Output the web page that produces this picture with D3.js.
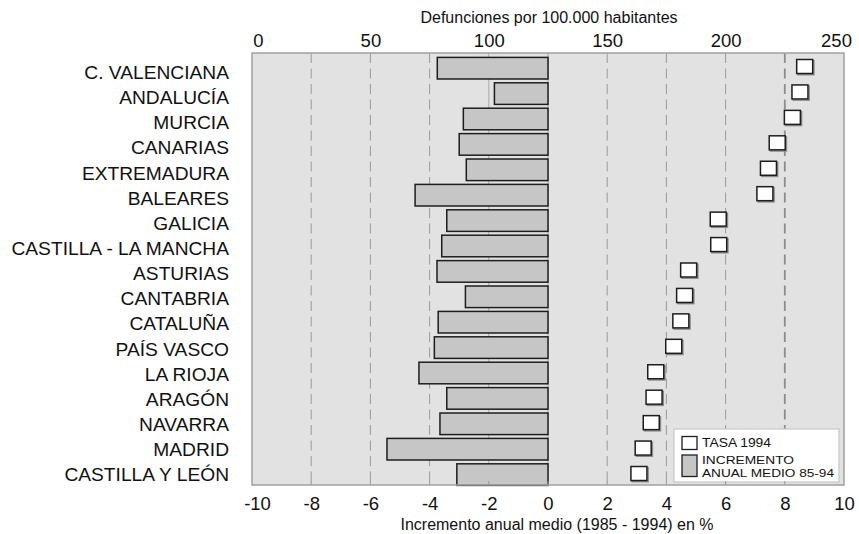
<!DOCTYPE html>
<html><head><meta charset="utf-8">
<script src="https://cdn.jsdelivr.net/npm/d3@7"></script>
<style>
body{margin:0;background:#fff;}
text{font-family:"Liberation Sans",Arial,sans-serif;fill:#111;}
</style></head>
<body>
<svg id="chart" width="859" height="534"></svg>
<script>
const regions = ["C. VALENCIANA","ANDALUCÍA","MURCIA","CANARIAS","EXTREMADURA","BALEARES","GALICIA","CASTILLA - LA MANCHA","ASTURIAS","CANTABRIA","CATALUÑA","PAÍS VASCO","LA RIOJA","ARAGÓN","NAVARRA","MADRID","CASTILLA Y LEÓN"];
const incremento = [-3.74,-1.81,-2.86,-3.0,-2.76,-4.49,-3.42,-3.59,-3.75,-2.79,-3.71,-3.84,-4.36,-3.42,-3.65,-5.44,-3.08];
const tasa1994 = [233.4,231.4,228.2,221.8,218.1,216.6,196.9,197.1,184.4,182.7,181.1,178.1,170.5,169.8,168.6,165.2,163.4];
const bottomTicks = [-10,-8,-6,-4,-2,0,2,4,6,8,10];
const topTicks = [0,50,100,150,200,250];
const topTitle = "Defunciones por 100.000 habitantes";
const bottomTitle = "Incremento anual medio (1985 - 1994) en %";
const legendItems = [["TASA 1994"],["INCREMENTO","ANUAL MEDIO 85-94"]];

const svg = d3.select("#chart");
const L = 252, R = 844, T = 53, B = 485;

const x = d3.scaleLinear().domain([-10,10]).range([L,R]);
const xTop = d3.scaleLinear().domain([0,250]).range([L,R]);
const yBar = d3.scaleBand().domain(regions).range([55.5,487.3]).paddingInner(0.15).paddingOuter(0.075);
const yLab = d3.scalePoint().domain(regions).range([72,474.5]);
const ySq = d3.scalePoint().domain(regions).range([66.5,473.5]);

// plot background
svg.append("rect").attr("x",L).attr("y",T).attr("width",R-L).attr("height",B-T).attr("fill","#e2e2e2");

// gridlines
const grid = svg.append("g");
bottomTicks.filter(v=>v>-10 && v<10).forEach(v=>{
  const solid = (v===-2 || v===0);
  grid.append("line").attr("x1",x(v)).attr("x2",x(v)).attr("y1",T).attr("y2",B)
    .attr("stroke", solid ? "#a8a8a8" : (v===8 ? "#8c8c8c" : "#9a9a9a"))
    .attr("stroke-width", v===8 ? 1.8 : 1)
    .attr("stroke-dasharray", solid ? null : "10,5.5");
});

// bars
svg.append("g").selectAll("rect").data(regions).join("rect")
  .attr("x",(d,i)=>x(incremento[i]))
  .attr("width",(d,i)=>x(0)-x(incremento[i]))
  .attr("y",d=>yBar(d))
  .attr("height",yBar.bandwidth())
  .attr("fill","#c6c6c6").attr("stroke","#1e1e1e").attr("stroke-width",1.5);

// squares (TASA 1994)
const sw = 16, sh = 14;
const sq = svg.append("g");
sq.selectAll("rect.sh").data(regions).join("rect").attr("class","sh")
  .attr("x",(d,i)=>xTop(tasa1994[i])-sw/2+1.2).attr("y",d=>ySq(d)-sh/2+1.2)
  .attr("width",sw).attr("height",sh).attr("fill","none").attr("stroke","#8a8a8a").attr("stroke-width",1.5);
sq.selectAll("rect.box").data(regions).join("rect").attr("class","box")
  .attr("x",(d,i)=>xTop(tasa1994[i])-sw/2).attr("y",d=>ySq(d)-sh/2)
  .attr("width",sw).attr("height",sh).attr("fill","#fff").attr("stroke","#1e1e1e").attr("stroke-width",1.5);

// legend
const lg = svg.append("g");
lg.append("rect").attr("x",674).attr("y",429).attr("width",165).attr("height",53)
  .attr("fill","#fff").attr("stroke","#c8c8c8").attr("stroke-width",1.2);
lg.append("rect").attr("x",682).attr("y",436.5).attr("width",15).attr("height",13)
  .attr("fill","#fff").attr("stroke","#1e1e1e").attr("stroke-width",1.3);
lg.append("text").attr("x",702).attr("y",447).attr("font-size",12.2)
  .attr("textLength",69).attr("lengthAdjust","spacingAndGlyphs").text(legendItems[0][0]);
lg.append("rect").attr("x",682).attr("y",455).attr("width",15).attr("height",21.5)
  .attr("fill","#c6c6c6").attr("stroke","#1e1e1e").attr("stroke-width",1.3);
lg.append("text").attr("x",702).attr("y",464.3).attr("font-size",11.2)
  .attr("textLength",92).attr("lengthAdjust","spacingAndGlyphs").text(legendItems[1][0]);
lg.append("text").attr("x",702).attr("y",477.4).attr("font-size",11.2)
  .attr("textLength",132).attr("lengthAdjust","spacingAndGlyphs").text(legendItems[1][1]);

// small inner ticks at bottom
svg.append("g").selectAll("line").data(bottomTicks.filter(v=>v>-10&&v<10)).join("line")
  .attr("x1",d=>x(d)).attr("x2",d=>x(d)).attr("y1",B-4).attr("y2",B)
  .attr("stroke","#999").attr("stroke-width",1);

// frame
svg.append("rect").attr("x",L).attr("y",T).attr("width",R-L).attr("height",B-T)
  .attr("fill","none").attr("stroke","#a0a0a0").attr("stroke-width",1.5);

// axes (labels only)
const axB = svg.append("g").attr("transform",`translate(0,${B})`)
  .call(d3.axisBottom(x).tickValues(bottomTicks).tickSize(0).tickPadding(0).tickFormat(d=>String(d)));
axB.select(".domain").remove();
axB.selectAll("text").attr("font-size",18.5).attr("font-family","Liberation Sans, Arial, sans-serif")
  .attr("fill","#111").attr("dy",null).attr("y",25)
  .attr("dx",d=>d===-10?5:0);

const axT = svg.append("g").attr("transform",`translate(0,${T})`)
  .call(d3.axisTop(xTop).tickValues(topTicks).tickSize(0).tickPadding(0));
axT.select(".domain").remove();
axT.selectAll("text").attr("font-size",18.5).attr("font-family","Liberation Sans, Arial, sans-serif")
  .attr("fill","#111").attr("y",-6.5)
  .attr("dx",d=>d===0?6:(d===250?-8:0));

// category labels
svg.append("g").selectAll("text").data(regions).join("text")
  .attr("x",229).attr("y",d=>yLab(d)).attr("dy","0.36em")
  .attr("text-anchor","end").attr("font-size",19.2).text(d=>d);

// titles
svg.append("text").attr("x",549).attr("y",23.3).attr("text-anchor","middle").attr("font-size",16).text(topTitle);
svg.append("text").attr("x",557).attr("y",530).attr("text-anchor","middle").attr("font-size",16).text(bottomTitle);
</script>
</body></html>
